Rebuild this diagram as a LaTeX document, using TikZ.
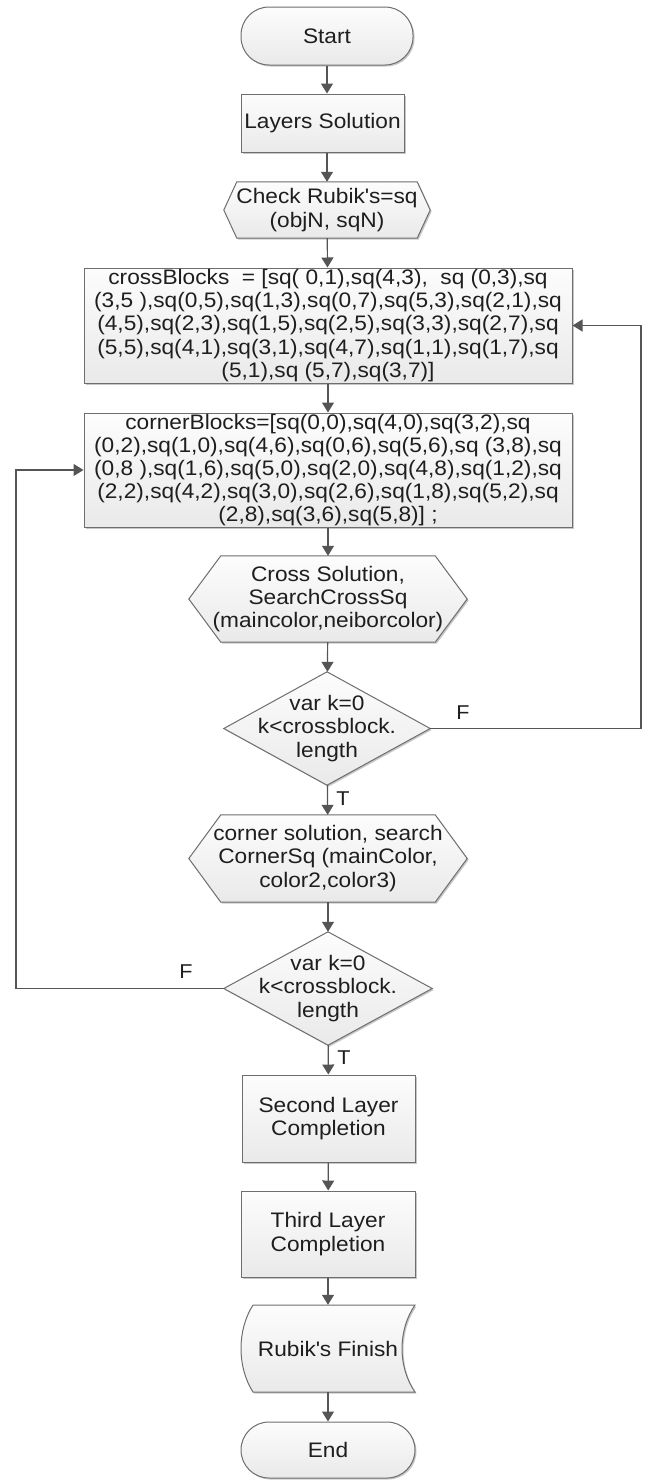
\documentclass[tikz,border=0pt]{standalone}
\usepackage{fontspec}
\setmainfont{Liberation Sans}[FakeStretch=1.08]
\usetikzlibrary{arrows.meta,backgrounds,shadows}
\definecolor{edgec}{HTML}{6E6E6E}
\definecolor{arrc}{HTML}{555555}
\definecolor{txtc}{HTML}{1E1E1E}
\tikzset{
  base/.style={font=\fontsize{21}{23.2}\selectfont, text=txtc, align=center, inner sep=0pt},
  shapestyle/.style={draw=edgec, line width=1pt, top color=gray!2, bottom color=gray!17,
     drop shadow={shadow xshift=1.5pt, shadow yshift=-1.5pt, opacity=0.22, fill=black}},
  boxnode/.style={base, shapestyle},
  stadium/.style={base, shapestyle, rounded corners=28pt},
  flow/.style={draw=arrc, line width=1.2pt, -{Triangle[width=12pt,length=10pt]}},
  lbl/.style={font=\fontsize{20}{22}\selectfont, text=txtc, inner sep=0pt}
}
\newcommand\hexpath[2]{\draw[shapestyle] (#1.west) -- ([xshift=#2]#1.north west) -- ([xshift=-#2]#1.north east) -- (#1.east) -- ([xshift=-#2]#1.south east) -- ([xshift=#2]#1.south west) -- cycle;}
\newcommand\diapath[1]{\draw[shapestyle] (#1.north) -- (#1.east) -- (#1.south) -- (#1.west) -- cycle;}
\begin{document}
\begin{tikzpicture}[x=1pt,y=-1pt]
\useasboundingbox (0,0) rectangle (645,1481);

\node[stadium, minimum width=172pt, minimum height=58pt] (start) at (327,36) {Start};
\node[boxnode, minimum width=163pt, minimum height=58pt] (layers) at (322.5,123) {Layers Solution};
\node[base, minimum width=206pt, minimum height=56pt] (check) at (327,210) {Check Rubik\textquotesingle s=sq\\(objN, sqN)};
\node[boxnode, minimum width=488pt, minimum height=115pt] (cross) at (328,325.5)
  {crossBlocks~~= [sq( 0,1),sq(4,3),~~sq (0,3),sq\\(3,5 ),sq(0,5),sq(1,3),sq(0,7),sq(5,3),sq(2,1),sq\\(4,5),sq(2,3),sq(1,5),sq(2,5),sq(3,3),sq(2,7),sq\\(5,5),sq(4,1),sq(3,1),sq(4,7),sq(1,1),sq(1,7),sq\\(5,1),sq (5,7),sq(3,7)]};
\node[boxnode, minimum width=488pt, minimum height=114pt] (corner) at (328,470)
  {cornerBlocks=[sq(0,0),sq(4,0),sq(3,2),sq\\(0,2),sq(1,0),sq(4,6),sq(0,6),sq(5,6),sq (3,8),sq\\(0,8 ),sq(1,6),sq(5,0),sq(2,0),sq(4,8),sq(1,2),sq\\(2,2),sq(4,2),sq(3,0),sq(2,6),sq(1,8),sq(5,2),sq\\(2,8),sq(3,6),sq(5,8)] ;};
\node[base, minimum width=278pt, minimum height=86pt] (crosssol) at (328,599) {Cross Solution,\\SearchCrossSq\\(maincolor,neiborcolor)};
\node[base, minimum width=206pt, minimum height=113pt] (d1) at (327,728.5) {var k=0\\k<crossblock.\\length};
\node[base, minimum width=278pt, minimum height=87pt] (cornersol) at (328,858.5) {corner solution, search\\CornerSq (mainColor,\\color2,color3)};
\node[base, minimum width=208pt, minimum height=113pt] (d2) at (328,988.5) {var k=0\\k<crossblock.\\length};
\node[boxnode, minimum width=173pt, minimum height=87pt] (second) at (328.5,1118.5) {Second Layer\\Completion};
\node[boxnode, minimum width=174pt, minimum height=86pt] (third) at (328,1234) {Third Layer\\Completion};
\node[base, minimum width=174pt, minimum height=87pt] (finish) at (328,1348.5) {Rubik\textquotesingle s Finish};
\node[stadium, minimum width=174pt, minimum height=56pt] (end) at (328,1450) {End};

\begin{scope}[on background layer]
  \hexpath{check}{13pt}
  \hexpath{crosssol}{32pt}
  \hexpath{cornersol}{32pt}
  \diapath{d1}
  \diapath{d2}
  \draw[shapestyle] (253,1305) -- (415,1305) .. controls (397.7,1330) and (397.7,1367) .. (415,1392)
     -- (253,1392) .. controls (237,1367) and (237,1330) .. (253,1305) -- cycle;
\end{scope}

\coordinate (rr) at (641,0);
\coordinate (ll) at (16,0);

\draw[flow] (start.south) -- (start.south |- layers.north);
\draw[flow] (start.south |- layers.south) -- (check.north);
\draw[flow] (check) -- (cross);
\draw[flow] (cross) -- (corner);
\draw[flow] (corner) -- (crosssol);
\draw[flow] (crosssol) -- (d1);
\draw[flow] (d1) -- (cornersol);
\draw[flow] (cornersol) -- (d2);
\draw[flow] (d2) -- (second);
\draw[flow] (second) -- (third);
\draw[flow] (third) -- (finish);
\draw[flow] (finish) -- (end);
\draw[flow] (d1.east) -| (rr |- cross.east) -- (cross.east);
\draw[flow] (d2.west) -| (ll |- corner.west) -- (corner.west);

\node[lbl] (f1) at (463,713) {F};
\node[lbl] (t1) at (343,799) {T};
\node[lbl] (f2) at (186,972) {F};
\node[lbl] (t2) at (344,1058) {T};
\end{tikzpicture}
\end{document}
